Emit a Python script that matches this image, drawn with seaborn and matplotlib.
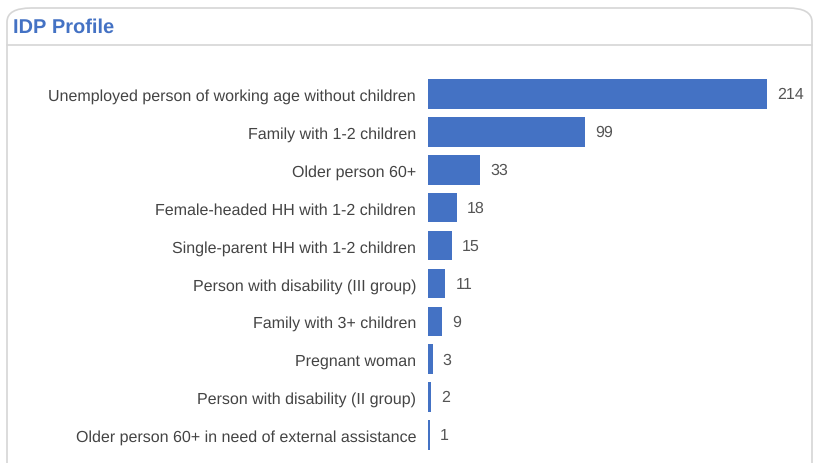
import matplotlib
matplotlib.use("Agg")
import matplotlib.pyplot as plt
import seaborn as sns
import pandas as pd
from matplotlib.patches import FancyBboxPatch
from matplotlib.lines import Line2D

# Dados do gráfico
categorias = [
    "Unemployed person of working age without children",
    "Family with 1-2 children",
    "Older person 60+",
    "Female-headed HH with 1-2 children",
    "Single-parent HH with 1-2 children",
    "Person with disability (III group)",
    "Family with 3+ children",
    "Pregnant woman",
    "Person with disability (II group)",
    "Older person 60+ in need of external assistance",
]
valores = [214, 99, 33, 18, 15, 11, 9, 3, 2, 1]

df = pd.DataFrame({"categoria": categorias, "valor": valores})

sns.set_style("white")
plt.rcParams["font.family"] = ["Liberation Sans", "DejaVu Sans"]
plt.rcParams["text.hinting"] = "none"
plt.rcParams["text.hinting_factor"] = 1

W, H = 813, 464
fig = plt.figure(figsize=(W / 100, H / 100), dpi=100)

# Moldura do cartão
card = FancyBboxPatch((7 / W, -20 / H), (805 / W), (H - 9 + 20) / H,
                      boxstyle="round,pad=0,rounding_size=0.03",
                      transform=fig.transFigure, facecolor="none",
                      edgecolor="#d6d6d6", linewidth=1.2, zorder=-1)
fig.patches.append(card)
fig.lines.append(Line2D([7 / W, 812 / W], [1 - 46 / H, 1 - 46 / H],
                        transform=fig.transFigure, color="#d6d6d6", linewidth=1.2))
fig.text(13 / W, 1 - 28 / H, "IDP Profile", color="#4472C4", fontsize=14.5,
         fontweight="bold", va="center", ha="left")

left, right = 428 / W, 800 / W
top, bottom = 1 - 76 / H, 1 - 455 / H
ax = fig.add_axes([left, bottom, right - left, top - bottom])
ax.set_facecolor("none")

sns.barplot(data=df, y="categoria", x="valor", color="#4472C4", width=0.78,
            saturation=1, linewidth=0, ax=ax)

px_por_unidade = (767 - 428) / 214
ax.set_xlim(0, (800 - 428) / px_por_unidade)
ax.set_ylim(9.5, -0.5)

for i, v in enumerate(valores):
    ax.text(v + 10 / px_por_unidade, i, str(v), va="center", ha="left",
            color="#555555", fontsize=11.8)

ax.set_xlabel("")
ax.set_ylabel("")
ax.set_xticks([])
ax.tick_params(axis="y", length=0, pad=8.6, labelsize=11.8, labelcolor="#444444")
sns.despine(ax=ax, left=True, bottom=True)

fig.savefig("out.png", dpi=100)
